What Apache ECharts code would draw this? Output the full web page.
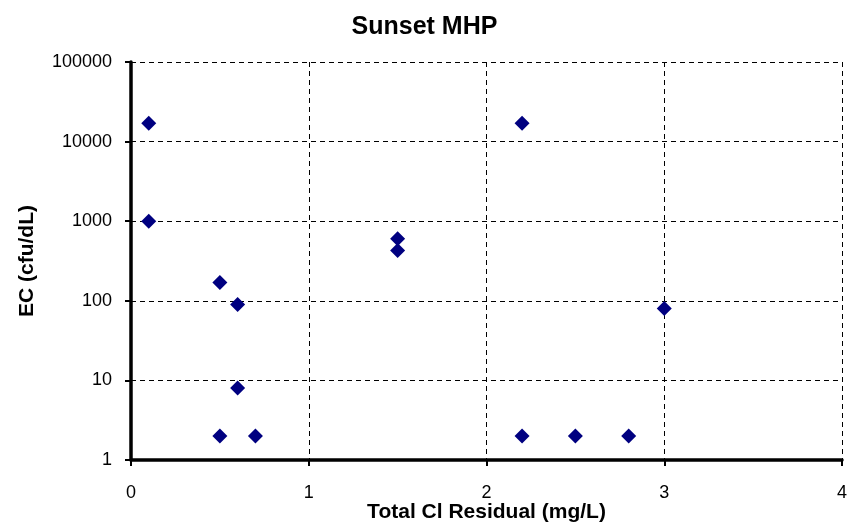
<!DOCTYPE html>
<html>
<head>
<meta charset="utf-8">
<script src="https://cdn.jsdelivr.net/npm/echarts@6/dist/echarts.min.js"></script>
<style>html,body{margin:0;padding:0;background:#fff;}#c{width:849px;height:530px;}</style>
</head>
<body>
<div id="c"></div>
<script>
var title = 'Sunset MHP';
var xName = 'Total Cl Residual (mg/L)';
var yName = 'EC (cfu/dL)';
var clResidual = [0.1, 0.1, 0.5, 0.6, 0.6, 0.5, 0.7, 1.5, 1.5, 2.2, 2.2, 2.5, 2.8, 3.0];
var ecValues  = [17000, 1000, 170, 90, 8, 2, 2, 600, 430, 17000, 2, 2, 2, 80];

var points = clResidual.map(function (x, i) { return [x, ecValues[i]]; });
var font = 'Liberation Sans, Arial, sans-serif';
var chart = echarts.init(document.getElementById('c'), null, {renderer: 'canvas'});
chart.setOption({
  animation: false,
  backgroundColor: '#ffffff',
  title: {
    text: title, left: 'center', top: 10,
    textStyle: {fontFamily: font, fontSize: 25, fontWeight: 'bold', color: '#000'}
  },
  grid: {left: 131, right: 7, top: 62, bottom: 70, containLabel: false, outerBoundsMode: 'none'},
  xAxis: {
    type: 'value', min: 0, max: 4, interval: 1,
    name: xName, nameLocation: 'middle', nameGap: 42, nameMoveOverlap: false,
    nameTextStyle: {fontFamily: font, fontSize: 21, fontWeight: 'bold', color: '#000'},
    axisLine: {show: true, onZero: false, lineStyle: {color: '#000', width: 3.5}},
    axisTick: {show: true, inside: false, length: 6, lineStyle: {color: '#000', width: 2}},
    axisLabel: {fontFamily: font, fontSize: 18, color: '#000', margin: 24},
    splitLine: {show: true, lineStyle: {color: '#000', type: [5, 4], width: 1}}
  },
  yAxis: {
    type: 'log', logBase: 10, min: 1, max: 100000,
    name: yName, nameLocation: 'middle', nameGap: 93, nameRotate: 90, nameMoveOverlap: false,
    nameTextStyle: {fontFamily: font, fontSize: 21, fontWeight: 'bold', color: '#000'},
    axisLine: {show: true, lineStyle: {color: '#000', width: 3.5}},
    axisTick: {show: true, inside: false, length: 6, lineStyle: {color: '#000', width: 2}},
    axisLabel: {fontFamily: font, fontSize: 18, color: '#000', margin: 19,
      formatter: function (v) { return String(Math.round(v)); }},
    splitLine: {show: true, lineStyle: {color: '#000', type: [5, 4], width: 1}},
    minorTick: {show: false}
  },
  series: [{
    type: 'scatter',
    data: points,
    symbol: 'diamond',
    symbolSize: 15,
    itemStyle: {color: '#000080', opacity: 1}
  }]
});
</script>
</body>
</html>
